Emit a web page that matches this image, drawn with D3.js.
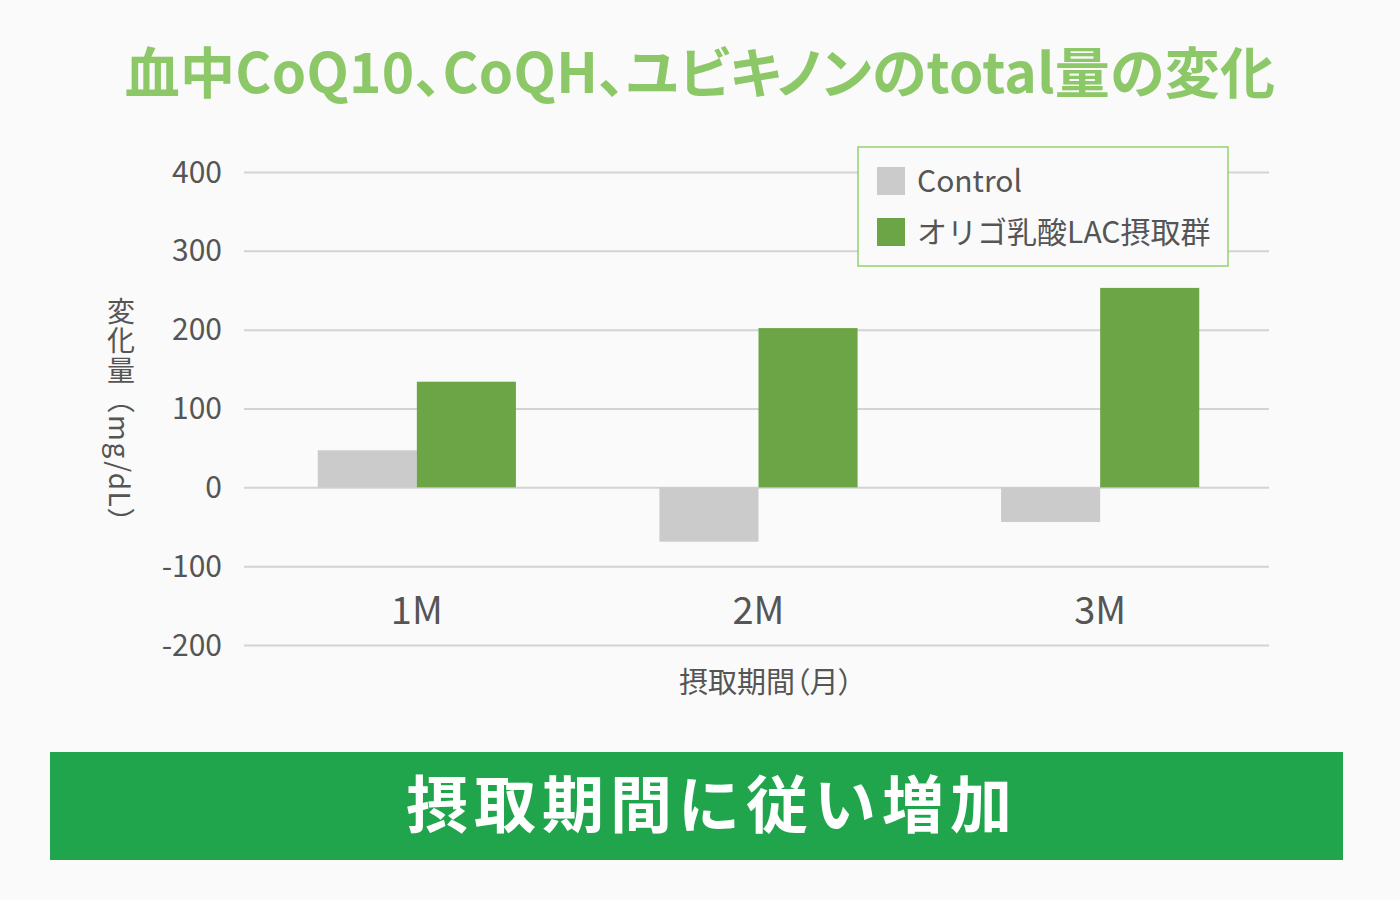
<!DOCTYPE html>
<html>
<head>
<meta charset="utf-8">
<script src="https://cdn.jsdelivr.net/npm/d3@7"></script>
<style>
  body { margin: 0; background: #fafafa; }
  svg { display: block; font-family: "Noto Sans CJK JP", "Noto Sans", sans-serif; }
  .palt { font-feature-settings: "palt"; }
</style>
</head>
<body>
<svg id="chart"></svg>
<script>
// chart values
const periods = ['1M', '2M', '3M'];
const seriesNames = ['Control', 'オリゴ乳酸LAC摂取群'];
const controlValues = [47, -69, -44];
const lacValues = [134, 202, 253];
const yTicks = [-200, -100, 0, 100, 200, 300, 400];

const titleText = '血中CoQ10、CoQH、ユビキノンのtotal量の変化';
const xTitle = '摂取期間（月）';
const yTitle = '変化量（mg/dL）';
const bannerText = '摂取期間に従い増加';

const colors = ['#cbcbcb', '#6ca546'];

const width = 1400, height = 900;
const svg = d3.select('#chart').attr('width', width).attr('height', height);

svg.append('rect').attr('width', width).attr('height', height).attr('fill', '#fafafa');

// title
svg.append('text')
  .attr('class', 'palt')
  .attr('x', 700).attr('y', 93)
  .attr('text-anchor', 'middle')
  .attr('font-size', 55).attr('font-weight', 700)
  .attr('letter-spacing', 0.3)
  .attr('fill', '#8dc868')
  .text(titleText);

// scales
const x0 = d3.scaleBand().domain(periods).range([246, 1271]).paddingInner(0.42).paddingOuter(0.21);
const x1 = d3.scaleBand().domain(seriesNames).range([0, x0.bandwidth()]);
const y = d3.scaleLinear().domain([-200, 400]).range([645, 172]);

// grid
svg.append('g')
  .attr('transform', 'translate(244,0)')
  .call(d3.axisLeft(y).tickValues(yTicks).tickSize(-1025).tickFormat(''))
  .call(g => g.select('.domain').remove())
  .call(g => g.selectAll('line').attr('stroke', '#d3d3d3').attr('stroke-width', 2));

// y tick labels
svg.append('g')
  .selectAll('text')
  .data(yTicks)
  .join('text')
  .attr('x', 222).attr('y', d => y(d))
  .attr('dy', '0.35em')
  .attr('text-anchor', 'end')
  .attr('font-size', 30)
  .attr('fill', '#555')
  .text(d => d);

// bars
const rows = periods.map((p, i) => ({ period: p, values: [controlValues[i], lacValues[i]] }));
const groups = svg.append('g')
  .selectAll('g')
  .data(rows)
  .join('g')
  .attr('transform', d => `translate(${x0(d.period)},0)`);

groups.selectAll('rect')
  .data(d => d.values.map((v, j) => ({ name: seriesNames[j], value: v, j })))
  .join('rect')
  .attr('x', d => x1(d.name))
  .attr('width', x1.bandwidth())
  .attr('y', d => y(Math.max(0, d.value)))
  .attr('height', d => Math.abs(y(d.value) - y(0)))
  .attr('fill', d => colors[d.j]);

// x labels
svg.append('g')
  .selectAll('text')
  .data(periods)
  .join('text')
  .attr('x', d => x0(d) + x0.bandwidth() / 2)
  .attr('y', 624)
  .attr('text-anchor', 'middle')
  .attr('font-size', 38)
  .attr('fill', '#555')
  .text(d => d);

svg.append('text')
  .attr('class', 'palt')
  .attr('x', 766).attr('y', 693)
  .attr('text-anchor', 'middle')
  .attr('font-size', 29)
  .attr('fill', '#555')
  .text(xTitle);

// y title, vertical
svg.append('text')
  .attr('x', 121).attr('y', 297)
  .attr('writing-mode', 'vertical-rl')
  .attr('font-size', 28)
  .attr('letter-spacing', 1.5)
  .attr('fill', '#555')
  .text(yTitle);

// legend
const legend = svg.append('g').attr('transform', 'translate(858,147)');
legend.append('rect')
  .attr('width', 370).attr('height', 119)
  .attr('fill', '#fafafa')
  .attr('stroke', '#93d26f').attr('stroke-width', 1.5);
seriesNames.forEach((name, i) => {
  legend.append('rect')
    .attr('x', 19).attr('y', 20 + i * 51)
    .attr('width', 28).attr('height', 28)
    .attr('fill', colors[i]);
  legend.append('text')
    .attr('x', 59).attr('y', 34 + i * 51)
    .attr('dy', '0.35em')
    .attr('font-size', 30)
    .attr('fill', '#555')
    .text(name);
});

// banner
svg.append('rect')
  .attr('x', 50).attr('y', 752)
  .attr('width', 1293).attr('height', 108)
  .attr('fill', '#21a54c');
svg.append('text')
  .attr('x', 712).attr('y', 806)
  .attr('dy', '0.35em')
  .attr('text-anchor', 'middle')
  .attr('font-size', 62).attr('font-weight', 700)
  .attr('letter-spacing', 6)
  .attr('fill', '#fff')
  .text(bannerText);
</script>
</body>
</html>
